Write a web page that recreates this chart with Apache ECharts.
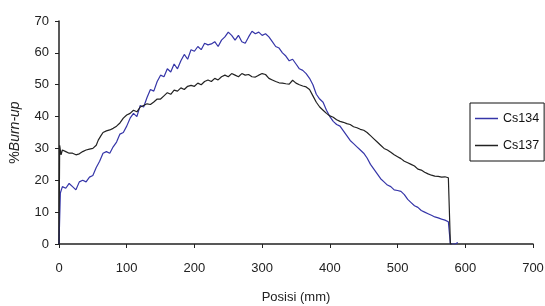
<!DOCTYPE html>
<html>
<head>
<meta charset="utf-8">
<script src="https://cdn.jsdelivr.net/npm/echarts@6/dist/echarts.min.js"></script>
<style>
  html, body { margin: 0; padding: 0; background: #fff; }
  #chart { width: 545px; height: 306px; }
</style>
</head>
<body>
<div id="chart"></div>
<script>
// position (mm) and burn-up (%)
const cs134X = [0, 2, 5, 10, 15, 20, 25, 30, 35, 40, 45, 50, 55, 60, 65, 70, 75, 80, 85, 90, 95, 100, 105, 110, 115, 120, 125, 130, 135, 140, 145, 150, 155, 160, 165, 170, 175, 180, 185, 190, 195, 200, 205, 210, 215, 220, 225, 230, 235, 240, 245, 250, 255, 260, 265, 270, 275, 280, 285, 290, 295, 300, 305, 310, 315, 320, 325, 330, 335, 340, 345, 350, 355, 360, 365, 370, 375, 380, 385, 390, 395, 400, 405, 410, 415, 420, 425, 430, 435, 440, 445, 450, 455, 460, 465, 470, 475, 480, 485, 490, 495, 500, 505, 510, 515, 520, 525, 530, 535, 540, 545, 550, 555, 560, 565, 570, 575, 578, 585, 589]
const cs134Y = [0, 16, 18, 17.5, 19, 18, 17, 19.5, 20, 19.5, 21, 21.5, 24, 26, 28.5, 29, 28.5, 30.5, 32, 34.5, 35, 37, 39.5, 41, 40, 43.5, 43, 46, 48.5, 48, 51, 53, 52.5, 55, 54, 56.5, 55, 57.5, 59.5, 58, 61, 60.5, 62, 61, 63, 62.5, 62.8, 63.5, 62, 64, 65, 66.5, 65.5, 64, 65.5, 63.5, 63, 65, 66.8, 66, 66.5, 65.5, 66, 65, 63.5, 62, 61.5, 60, 59, 57.5, 58, 56.5, 55, 54.5, 53.5, 52, 50, 47, 45.5, 44.5, 42, 40, 38.5, 37.5, 37, 35.5, 34, 32.5, 31.5, 30.5, 29.5, 28.5, 27, 25, 23.5, 22, 20.5, 19.5, 18.5, 18, 17, 16.8, 16.5, 15.5, 14, 13, 12, 11.5, 10.5, 10, 9.5, 9, 8.5, 8.2, 7.8, 7.5, 7, 0, 0, 0.5]

const cs137X = [0, 1, 3, 5, 10, 15, 20, 25, 30, 35, 40, 45, 50, 55, 58, 62, 65, 70, 75, 80, 85, 90, 95, 100, 105, 110, 115, 120, 125, 130, 135, 140, 145, 150, 155, 160, 165, 170, 175, 180, 185, 190, 195, 200, 205, 210, 215, 220, 225, 230, 235, 240, 245, 250, 255, 260, 265, 270, 275, 280, 285, 290, 295, 300, 305, 310, 315, 320, 325, 330, 335, 340, 345, 350, 355, 360, 365, 370, 375, 380, 385, 390, 395, 400, 405, 410, 415, 420, 425, 430, 435, 440, 445, 450, 455, 460, 465, 470, 475, 480, 485, 490, 495, 500, 505, 510, 515, 520, 525, 530, 535, 540, 545, 550, 555, 560, 565, 570, 575, 578, 580]
const cs137Y = [0, 31, 28, 29.5, 29, 28.5, 28.5, 28, 28.3, 29, 29.5, 29.8, 30, 31, 32.6, 34, 35, 35.5, 35.8, 36.3, 37, 38, 39.5, 40.5, 41, 42, 41.5, 43, 43.5, 44, 43.8, 44.6, 45.5, 45.5, 46.5, 47.5, 47, 48.3, 48, 49, 48.5, 49.5, 49.8, 49.5, 50.5, 50, 51, 51.5, 51, 52, 51.5, 52.5, 53, 52.5, 53.5, 53, 52.5, 53.5, 53, 53.2, 52.5, 52.4, 53, 53.5, 53.2, 52, 51.5, 51, 50.6, 50.5, 50.3, 50.2, 51.4, 50.5, 50, 49.6, 49.3, 48.5, 46.5, 44.5, 43, 42, 41, 40.2, 39.8, 39, 38.5, 38.2, 37.8, 37.5, 36.8, 36.5, 36, 35.7, 35, 34, 33, 32, 31, 30, 29.5, 28.8, 28, 27.4, 26.8, 26, 25.5, 25, 24.5, 23.5, 23.2, 22.5, 22, 21.6, 21.3, 21.2, 21, 21.1, 20.8, 0, 0]

const seriesNames = ['Cs134', 'Cs137']

const toPairs = (xs, ys) => xs.map((x, i) => [x, ys[i]])

const chart = echarts.init(document.getElementById('chart'))

const axisFont = { fontFamily: 'Liberation Sans', fontSize: 13, color: '#222' }

chart.setOption({
  animation: false,
  grid: { left: 59, right: 12, top: 21, bottom: 62, outerBoundsMode: 'none', containLabel: false },
  legend: {
    orient: 'vertical',
    left: 470,
    top: 103,
    data: seriesNames,
    icon: 'rect',
    itemWidth: 23,
    itemHeight: 1.5,
    itemGap: 14,
    padding: [9, 5, 9, 5],
    borderColor: '#111',
    borderWidth: 1,
    textStyle: { fontFamily: 'Liberation Sans', fontSize: 12.5, color: '#111' }
  },
  xAxis: {
    type: 'value',
    min: 0,
    max: 700,
    interval: 100,
    name: 'Posisi (mm)',
    nameLocation: 'middle',
    nameGap: 47,
    nameTextStyle: { fontFamily: 'Liberation Sans', fontSize: 13, color: '#222' },
    axisLine: { show: true, lineStyle: { color: '#222', width: 1.5 } },
    axisTick: { show: true, length: 4, lineStyle: { color: '#222' } },
    axisLabel: Object.assign({ margin: 18 }, axisFont),
    splitLine: { show: false }
  },
  yAxis: {
    type: 'value',
    min: 0,
    max: 70,
    interval: 10,
    name: '{n|%}{i|Burn-up}',
    nameLocation: 'middle',
    nameRotate: 90,
    nameGap: 37,
    nameTextStyle: {
      rich: {
        n: { fontFamily: 'Liberation Sans', fontSize: 14, color: '#222' },
        i: { fontFamily: 'Liberation Sans', fontSize: 14, color: '#222', fontStyle: 'italic' }
      }
    },
    axisLine: { show: true, lineStyle: { color: '#222', width: 1.5 } },
    axisTick: { show: true, length: 4, lineStyle: { color: '#222' } },
    axisLabel: Object.assign({ margin: 10 }, axisFont),
    splitLine: { show: false }
  },
  series: [
    {
      name: seriesNames[0],
      type: 'line',
      data: toPairs(cs134X, cs134Y),
      showSymbol: false,
      color: '#3535a8',
      lineStyle: { width: 1.2, color: '#3535a8' }
    },
    {
      name: seriesNames[1],
      type: 'line',
      data: toPairs(cs137X, cs137Y),
      showSymbol: false,
      color: '#222',
      lineStyle: { width: 1.2, color: '#222' }
    }
  ]
})
</script>
</body>
</html>
